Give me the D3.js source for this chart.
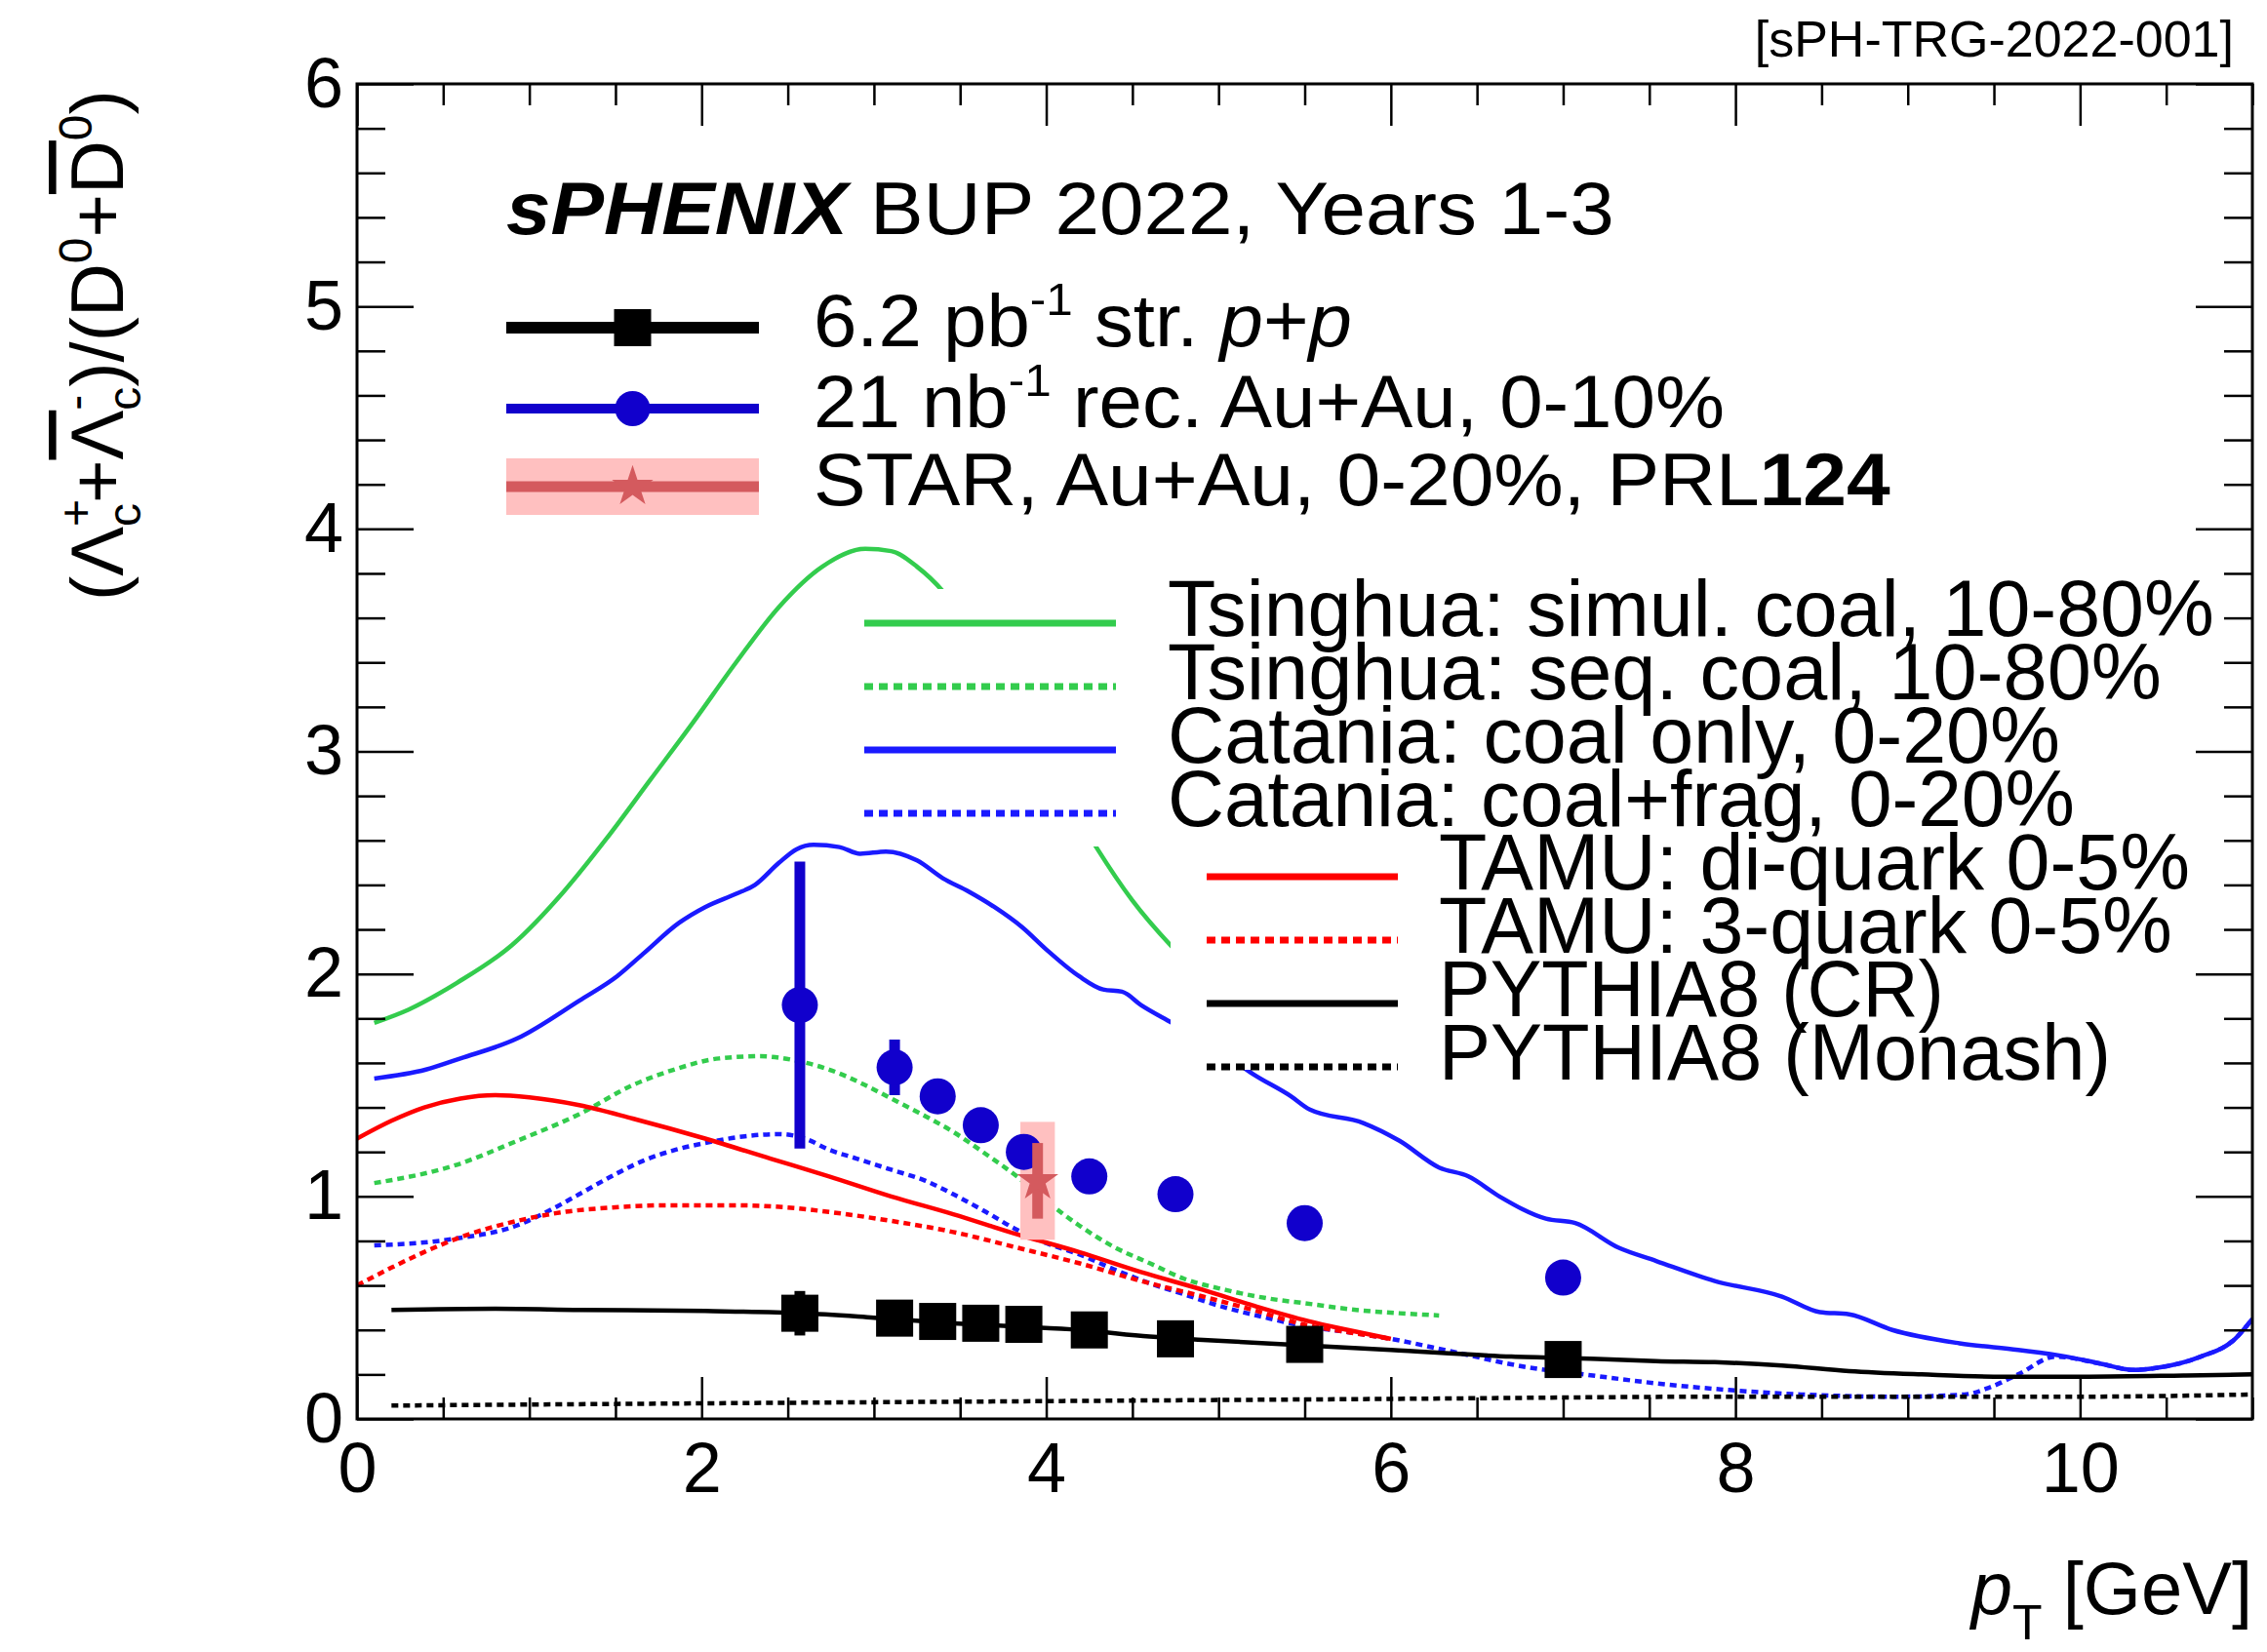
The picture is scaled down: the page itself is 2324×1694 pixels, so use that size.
<!DOCTYPE html>
<html>
<head>
<meta charset="utf-8">
<script src="https://cdn.jsdelivr.net/npm/d3@7"></script>
<style>
  body { margin: 0; background: #fff; }
  text { font-family: "Liberation Sans", Arial, Helvetica, sans-serif; }
</style>
</head>
<body>
<svg id="chart" width="2324" height="1694"></svg>
<script>
// ---------------- data ----------------
// sPHENIX projections, same pT bins for p+p and Au+Au
const ptBins    = [2.57, 3.12, 3.37, 3.62, 3.87, 4.25, 4.75, 5.5, 7.0];
const ppRatio   = [0.475, 0.453, 0.438, 0.43, 0.425, 0.40, 0.36, 0.335, 0.267];
const ppErr     = [0.10, 0.02, 0.02, 0.02, 0.02, 0.02, 0.02, 0.02, 0.02];
const auauRatio = [1.86, 1.58, 1.45, 1.32, 1.20, 1.09, 1.01, 0.88, 0.635];
const auauErr   = [0.645, 0.125, 0.06, 0.05, 0.04, 0.03, 0.03, 0.03, 0.03];

// STAR Au+Au 0-20% (PRL 124)
const starPt    = [3.95];
const starRatio = [1.07];
const starStat  = [0.17];
const starSys   = [0.265];
const starBinHalf = [0.1];

// model curves, [pT, ratio]
const tsinghuaSimul = [[0.1,1.78],[0.3,1.84],[0.58,1.96],[0.9,2.13],[1.2,2.37],[1.45,2.61],[1.7,2.87],[1.95,3.13],[2.2,3.4],[2.45,3.65],[2.7,3.83],[2.95,3.91],[3.1,3.9],[3.25,3.83],[3.4,3.72],[3.6,3.5],[3.8,3.24],[4.0,2.96],[4.29,2.57],[4.5,2.33],[4.72,2.13],[5.0,1.92],[5.3,1.74]];
const tsinghuaSeq = [[0.1,1.06],[0.57,1.14],[0.93,1.25],[1.29,1.37],[1.6,1.5],[1.84,1.57],[2.1,1.62],[2.34,1.63],[2.55,1.61],[2.74,1.57],[2.95,1.5],[3.1,1.44],[3.3,1.36],[3.46,1.29],[3.65,1.19],[3.83,1.09],[4.0,0.98],[4.19,0.87],[4.4,0.77],[4.6,0.7],[4.8,0.63],[5.04,0.58],[5.3,0.54],[5.5,0.52],[5.8,0.49],[6.05,0.475],[6.28,0.465]];
const cataniaCoal = [[0.1,1.53],[0.4,1.57],[0.6,1.62],[0.93,1.71],[1.29,1.88],[1.51,1.99],[1.66,2.09],[1.87,2.23],[2.02,2.3],[2.2,2.36],[2.31,2.4],[2.45,2.5],[2.55,2.56],[2.65,2.58],[2.8,2.57],[2.92,2.54],[3.07,2.55],[3.25,2.51],[3.4,2.43],[3.55,2.37],[3.7,2.3],[3.86,2.21],[4.0,2.11],[4.19,1.99],[4.33,1.93],[4.44,1.92],[4.55,1.86],[4.73,1.78],[5.0,1.66],[5.2,1.55],[5.42,1.45],[5.53,1.39],[5.84,1.33],[6.05,1.25],[6.28,1.13],[6.45,1.09],[6.63,1.0],[6.9,0.9],[7.07,0.88],[7.32,0.77],[7.54,0.71],[7.88,0.62],[8.27,0.55],[8.49,0.48],[8.66,0.47],[8.91,0.4],[9.3,0.34],[9.64,0.31],[9.92,0.28],[10.11,0.25],[10.31,0.22],[10.45,0.23],[10.7,0.28],[10.9,0.36],[11.0,0.45]];
const cataniaCoalFrag = [[0.1,0.78],[0.57,0.81],[0.93,0.87],[1.1,0.93],[1.29,1.01],[1.5,1.1],[1.66,1.16],[1.85,1.21],[2.02,1.24],[2.25,1.27],[2.45,1.28],[2.6,1.26],[2.74,1.21],[2.9,1.17],[3.1,1.12],[3.3,1.07],[3.46,1.01],[3.65,0.93],[3.83,0.85],[4.0,0.79],[4.19,0.74],[4.4,0.67],[4.6,0.61],[4.8,0.56],[5.04,0.5],[5.25,0.46],[5.48,0.42],[5.75,0.39],[6.0,0.36],[6.37,0.3],[6.81,0.23],[7.12,0.2],[7.54,0.16],[7.96,0.13],[8.38,0.11],[8.94,0.1],[9.33,0.11],[9.47,0.14],[9.64,0.2],[9.86,0.28],[10.11,0.25],[10.31,0.22],[10.45,0.23],[10.7,0.28],[10.9,0.36],[11.0,0.45]];
const tamuDiquark = [[0,1.26],[0.2,1.34],[0.39,1.4],[0.6,1.44],[0.8,1.455],[1.0,1.445],[1.29,1.41],[1.6,1.35],[2.02,1.26],[2.4,1.17],[2.74,1.09],[3.1,1.0],[3.46,0.92],[3.83,0.83],[4.19,0.75],[4.55,0.66],[4.91,0.58],[5.2,0.51],[5.52,0.44],[5.75,0.4],[6.0,0.36]];
const tamu3quark = [[0,0.6],[0.2,0.68],[0.39,0.75],[0.65,0.83],[0.93,0.89],[1.2,0.93],[1.48,0.95],[1.8,0.96],[2.2,0.96],[2.5,0.95],[2.74,0.93],[3.1,0.89],[3.46,0.84],[3.83,0.77],[4.19,0.7],[4.55,0.62],[4.91,0.55],[5.2,0.49],[5.52,0.42],[5.75,0.39],[6.0,0.36]];
const pythiaCR = [[0.2,0.49],[0.8,0.495],[1.29,0.49],[2.02,0.485],[2.58,0.475],[3.0,0.455],[3.46,0.43],[3.83,0.415],[4.19,0.4],[4.6,0.37],[4.91,0.355],[5.52,0.33],[6.0,0.31],[6.7,0.28],[7.2,0.27],[7.54,0.26],[7.88,0.255],[8.27,0.24],[8.66,0.215],[9.08,0.2],[9.5,0.19],[10.05,0.19],[10.6,0.195],[11.0,0.2]];
const pythiaMonash = [[0.2,0.06],[2,0.07],[4,0.08],[6,0.09],[8,0.1],[10,0.1],[11,0.11]];

const modelNames = ['Tsinghua: simul. coal, 10-80%', 'Tsinghua: seq. coal, 10-80%',
                    'Catania: coal only, 0-20%', 'Catania: coal+frag, 0-20%',
                    'TAMU: di-quark 0-5%', 'TAMU: 3-quark 0-5%',
                    'PYTHIA8 (CR)', 'PYTHIA8 (Monash)'];
const modelCurves = [tsinghuaSimul, tsinghuaSeq, cataniaCoal, cataniaCoalFrag,
                     tamuDiquark, tamu3quark, pythiaCR, pythiaMonash];

const xMajor = [0, 2, 4, 6, 8, 10];
const yMajor = [0, 1, 2, 3, 4, 5, 6];

// ---------------- styles / layout ----------------
const green = '#33cc4d', blue = '#1a1aff', red = '#ff0000', black = '#000000';
const modelColors = [green, green, blue, blue, red, red, black, black];
const modelDashed = [false, true, false, true, false, true, false, true];
const markerBlue = '#1100cc';
const starFill = '#ffc0c0', starLine = '#d45a5e';

const svg = d3.select('#chart');
const frame = {left: 366, right: 2309, top: 86, bottom: 1455};

const x = d3.scaleLinear().domain([0, 11]).range([frame.left, frame.right]);
const y = d3.scaleLinear().domain([0, 6]).range([frame.bottom, frame.top]);

svg.append('rect').attr('width', 2324).attr('height', 1694).attr('fill', '#fff');

svg.append('defs').append('clipPath').attr('id', 'plotclip')
  .append('rect')
  .attr('x', frame.left).attr('y', frame.top)
  .attr('width', frame.right - frame.left).attr('height', frame.bottom - frame.top);

// stretch a text horizontally so it spans the width seen in the figure
function fitText(sel, width) {
  const bb = sel.node().getBBox();
  const k = width / bb.width;
  sel.attr('transform', `translate(${bb.x},0) scale(${k},1) translate(${-bb.x},0)`);
}

// text made of pieces: {t, sup, sub, it, b}
function richText(parent, px, py, size, parts) {
  const t = parent.append('text').attr('x', px).attr('y', py).attr('font-size', size);
  let shift = 0;
  parts.forEach(p => {
    let target = 0;
    if (p.sup) target = -0.42 * size;
    if (p.sub) target = 0.25 * size;
    const s = t.append('tspan').text(p.t).attr('dy', target - shift);
    shift = target;
    if (p.sup || p.sub) s.attr('font-size', size * 0.62);
    if (p.it) s.attr('font-style', 'italic');
    if (p.b) s.attr('font-weight', 'bold');
  });
  return t;
}

// ---------------- model curves ----------------
const line = d3.line()
  .x(d => x(d[0]))
  .y(d => y(d[1]))
  .curve(d3.curveMonotoneX);

const curves = svg.append('g').attr('clip-path', 'url(#plotclip)');
modelCurves.forEach((c, i) => {
  curves.append('path')
    .attr('d', line(c))
    .attr('fill', 'none')
    .attr('stroke', modelColors[i])
    .attr('stroke-width', 4.5)
    .attr('stroke-dasharray', modelDashed[i] ? '7,5' : null);
});

// ---------------- model legends (white boxes hide the curves) ----------------
const leg1 = {x0: 880, x1: 2290, y0: 604, y1: 868, lineX: [886, 1144], textX: 1197};
const leg2 = {x0: 1200, x1: 2260, y0: 868, y1: 1097, lineX: [1237, 1433], textX: 1475};
const rowY0 = 639, rowStep = 65;
const modelTextWidths = [1073, 1019, 915, 930, 770, 752, 518, 689];

[leg1, leg2].forEach(L => {
  svg.append('rect').attr('x', L.x0).attr('y', L.y0)
    .attr('width', L.x1 - L.x0).attr('height', L.y1 - L.y0).attr('fill', '#fff');
});

modelNames.forEach((name, i) => {
  const L = i < 4 ? leg1 : leg2;
  const ly = rowY0 + i * rowStep;
  svg.append('line')
    .attr('x1', L.lineX[0]).attr('x2', L.lineX[1]).attr('y1', ly).attr('y2', ly)
    .attr('stroke', modelColors[i]).attr('stroke-width', 7)
    .attr('stroke-dasharray', modelDashed[i] ? '9,6' : null);
  const t = svg.append('text').attr('x', L.textX).attr('y', ly + 13)
    .attr('font-size', 82).text(name);
  fitText(t, modelTextWidths[i]);
});

// ---------------- STAR systematic box (under the sPHENIX markers) ----------------
svg.append('g').selectAll('rect').data(starPt).enter().append('rect')
  .attr('x', (pt, i) => x(pt - starBinHalf[i]))
  .attr('width', (pt, i) => x(pt + starBinHalf[i]) - x(pt - starBinHalf[i]))
  .attr('y', (pt, i) => y(starRatio[i] + starSys[i]))
  .attr('height', (pt, i) => y(starRatio[i] - starSys[i]) - y(starRatio[i] + starSys[i]))
  .attr('fill', starFill);

// ---------------- sPHENIX projections ----------------
const pp = ptBins.map((p, i) => ({x: p, y: ppRatio[i], e: ppErr[i]}));
const auau = ptBins.map((p, i) => ({x: p, y: auauRatio[i], e: auauErr[i]}));

svg.append('g').selectAll('line').data(pp).enter().append('line')
  .attr('x1', d => x(d.x)).attr('x2', d => x(d.x))
  .attr('y1', d => y(d.y - d.e)).attr('y2', d => y(d.y + d.e))
  .attr('stroke', black).attr('stroke-width', 11);
svg.append('g').selectAll('rect').data(pp).enter().append('rect')
  .attr('x', d => x(d.x) - 19).attr('y', d => y(d.y) - 19)
  .attr('width', 38).attr('height', 38).attr('fill', black);

svg.append('g').selectAll('line').data(auau).enter().append('line')
  .attr('x1', d => x(d.x)).attr('x2', d => x(d.x))
  .attr('y1', d => y(d.y - d.e)).attr('y2', d => y(d.y + d.e))
  .attr('stroke', markerBlue).attr('stroke-width', 11);
svg.append('g').selectAll('circle').data(auau).enter().append('circle')
  .attr('cx', d => x(d.x)).attr('cy', d => y(d.y)).attr('r', 18.5)
  .attr('fill', markerBlue);

// ---------------- STAR point and stat error on top ----------------
const star = d3.symbol().type(d3.symbolStar).size(560);
const starG = svg.append('g');
starPt.forEach((pt, i) => {
  starG.append('line')
    .attr('x1', x(pt)).attr('x2', x(pt))
    .attr('y1', y(starRatio[i] - starStat[i])).attr('y2', y(starRatio[i] + starStat[i]))
    .attr('stroke', starLine).attr('stroke-width', 11);
  starG.append('path').attr('d', star())
    .attr('transform', `translate(${x(pt)},${y(starRatio[i])})`)
    .attr('fill', starLine);
});

// ---------------- axes (ROOT style, ticks inside) ----------------
const xMinor = d3.range(0, 11.001, 0.5).filter(v => v % 2 !== 0);
const yMinor = d3.range(0, 6.001, 0.2).map(v => +v.toFixed(1)).filter(v => !Number.isInteger(v));

function styleAxis(g) {
  g.select('.domain').remove();
  g.selectAll('.tick line').attr('stroke', black).attr('stroke-width', 2.5);
  g.attr('font-size', 72).attr('font-family', '"Liberation Sans", Arial, sans-serif');
  g.selectAll('.tick text').attr('fill', black);
}

svg.append('g').attr('transform', `translate(0,${frame.bottom})`)
  .call(d3.axisBottom(x).tickValues(xMinor).tickSize(-22).tickFormat('')).call(styleAxis);
svg.append('g').attr('transform', `translate(0,${frame.bottom})`)
  .call(d3.axisBottom(x).tickValues(xMajor).tickSize(-43).tickPadding(24).tickFormat(d3.format('d'))).call(styleAxis);
svg.append('g').attr('transform', `translate(0,${frame.top})`)
  .call(d3.axisTop(x).tickValues(xMinor).tickSize(-22).tickFormat('')).call(styleAxis);
svg.append('g').attr('transform', `translate(0,${frame.top})`)
  .call(d3.axisTop(x).tickValues(xMajor).tickSize(-43).tickFormat('')).call(styleAxis);

svg.append('g').attr('transform', `translate(${frame.left},0)`)
  .call(d3.axisLeft(y).tickValues(yMinor).tickSize(-29).tickFormat('')).call(styleAxis);
svg.append('g').attr('transform', `translate(${frame.left},0)`)
  .call(d3.axisLeft(y).tickValues(yMajor).tickSize(-58).tickPadding(14).tickFormat(d3.format('d'))).call(styleAxis);
svg.append('g').attr('transform', `translate(${frame.right},0)`)
  .call(d3.axisRight(y).tickValues(yMinor).tickSize(-29).tickFormat('')).call(styleAxis);
svg.append('g').attr('transform', `translate(${frame.right},0)`)
  .call(d3.axisRight(y).tickValues(yMajor).tickSize(-58).tickFormat('')).call(styleAxis);

svg.append('rect')
  .attr('x', frame.left).attr('y', frame.top)
  .attr('width', frame.right - frame.left).attr('height', frame.bottom - frame.top)
  .attr('fill', 'none').attr('stroke', black).attr('stroke-width', 3);

// ---------------- axis titles ----------------
const xt = svg.append('text').attr('x', frame.right).attr('y', 1655)
  .attr('font-size', 76).attr('text-anchor', 'end');
xt.append('tspan').attr('font-style', 'italic').text('p');
xt.append('tspan').attr('font-size', 50).attr('dy', 26).text('T');
xt.append('tspan').attr('dy', -26).text(' [GeV]');

// (Λc+ + anti-Λc-)/(D0 + anti-D0), sub/superscripts stacked as in ROOT
const yt = svg.append('text').attr('transform', 'translate(126,616) rotate(-90)')
  .attr('font-size', 76);
yt.append('tspan').text('(Λ');
yt.append('tspan').attr('font-size', 48).attr('dy', -32).text('+');
yt.append('tspan').attr('font-size', 48).attr('dx', -28).attr('dy', 50).text('c');
yt.append('tspan').attr('dy', -18).text('+');
yt.append('tspan').attr('text-decoration', 'overline').text('Λ');
yt.append('tspan').attr('font-size', 48).attr('dy', -32).text('-');
yt.append('tspan').attr('font-size', 48).attr('dx', -16).attr('dy', 50).text('c');
yt.append('tspan').attr('dy', -18).text(')/(D');
yt.append('tspan').attr('font-size', 48).attr('dy', -32).text('0');
yt.append('tspan').attr('dy', 32).text('+');
yt.append('tspan').attr('text-decoration', 'overline').text('D');
yt.append('tspan').attr('font-size', 48).attr('dy', -32).text('0');
yt.append('tspan').attr('dy', 32).text(')');

// ---------------- header and data legend ----------------
svg.append('text').attr('x', 2290).attr('y', 58).attr('font-size', 52)
  .attr('text-anchor', 'end').text('[sPH-TRG-2022-001]');

const title = richText(svg, 519, 240, 76, [
  {t: 'sPHENIX', it: true, b: true}, {t: ' BUP 2022, Years 1-3'}]);
fitText(title, 1136);

const dataLegendY = [336, 419, 499];
const legLine = [519, 778];
const legMid = (legLine[0] + legLine[1]) / 2;

// p+p
svg.append('line').attr('x1', legLine[0]).attr('x2', legLine[1])
  .attr('y1', dataLegendY[0]).attr('y2', dataLegendY[0])
  .attr('stroke', black).attr('stroke-width', 12);
svg.append('rect').attr('x', legMid - 19).attr('y', dataLegendY[0] - 19)
  .attr('width', 38).attr('height', 38).attr('fill', black);
// Au+Au
svg.append('line').attr('x1', legLine[0]).attr('x2', legLine[1])
  .attr('y1', dataLegendY[1]).attr('y2', dataLegendY[1])
  .attr('stroke', markerBlue).attr('stroke-width', 10);
svg.append('circle').attr('cx', legMid).attr('cy', dataLegendY[1]).attr('r', 18)
  .attr('fill', markerBlue);
// STAR
svg.append('rect').attr('x', legLine[0]).attr('y', dataLegendY[2] - 29)
  .attr('width', legLine[1] - legLine[0]).attr('height', 58).attr('fill', starFill);
svg.append('line').attr('x1', legLine[0]).attr('x2', legLine[1])
  .attr('y1', dataLegendY[2]).attr('y2', dataLegendY[2])
  .attr('stroke', starLine).attr('stroke-width', 11);
svg.append('path').attr('d', star())
  .attr('transform', `translate(${legMid},${dataLegendY[2]})`).attr('fill', starLine);

const dataLegendText = [
  [{t: '6.2 pb'}, {t: '-1', sup: true}, {t: ' str. '}, {t: 'p', it: true}, {t: '+'}, {t: 'p', it: true}],
  [{t: '21 nb'}, {t: '-1', sup: true}, {t: ' rec. Au+Au, 0-10%'}],
  [{t: 'STAR, Au+Au, 0-20%, PRL'}, {t: '124', b: true}]
];
const dataLegendWidths = [552, 934, 1104];
dataLegendText.forEach((parts, i) => {
  const t = richText(svg, 834, dataLegendY[i] + 19, 76, parts);
  fitText(t, dataLegendWidths[i]);
});
</script>
</body>
</html>
